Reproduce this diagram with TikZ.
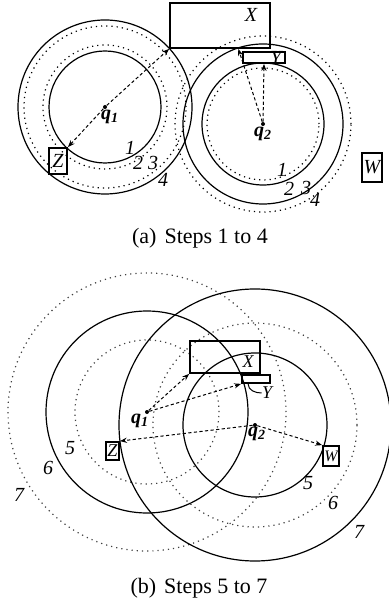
\documentclass[tikz,border=0pt]{standalone}
\usepackage{fontspec}
\setmainfont{Liberation Serif}
\usetikzlibrary{arrows.meta,calc}

\begin{document}
\begin{tikzpicture}[x=0.5pt,y=0.5pt,
    ring/.style={line width=0.6pt},
    dotring/.style={line width=0.6pt, dotted},
    box/.style={draw, line width=0.9pt, inner sep=0pt},
    qpt/.style={circle, fill, inner sep=0pt, minimum size=2pt},
    reach/.style={dash pattern=on 1.6pt off 1.2pt, line width=0.5pt, -{Stealth[length=3.5pt,width=2.6pt]}},
    num/.style={font=\itshape, inner sep=0pt},
    qlbl/.style={font=\bfseries\itshape, inner sep=0pt},
    capt/.style={font=\fontsize{11}{13}\selectfont}]
    \useasboundingbox (0,0) rectangle (388,-603);

    % (a) Steps 1 to 4
    \node[qpt] (q1a) at (105,-107) {};
    \node[qpt] (q2a) at (263,-124) {};
    \draw[ring] (q1a.center) circle (56) (q1a.center) circle (87);
    \draw[dotring] (q1a.center) circle (62) (q1a.center) circle (81);
    \draw[ring] (q2a.center) circle (61) (q2a.center) circle (80);
    \draw[dotring] (q2a.center) circle (56) (q2a.center) circle (88);
    \node[box, minimum width=50pt, minimum height=22.5pt] (Xa) at (220,-25.5) {};
    \node[box, minimum width=21pt, minimum height=5.5pt] (Ya) at (264,-57.5) {};
    \node[box, minimum width=9pt, minimum height=13pt] (Za) at (58,-161) {};
    \node[box, minimum width=10pt, minimum height=14.5pt] (Wa) at (372,-167.5) {};
    \node[num] at (251,-15) {X};
    \node[num] at (276,-58) {Y};
    \node[num] at (Za) {Z};
    \node[num] at (Wa) {W};
    \node[qlbl] at (110,-117) {q\textsubscript{1}};
    \node[qlbl] at (263,-134) {q\textsubscript{2}};
    \draw[reach] (q1a) -- (Xa.south west);
    \draw[reach] (q1a) -- (Za.north east);
    \draw[reach] (q2a) -- ($(Xa.south west)!0.68!(Xa.south east)$);
    \draw[reach] (q2a) -- (Ya.south);
    \foreach \t/\x/\y in {1/130/148, 2/138/163, 3/153/163, 4/163/180,
                          1/282/170, 2/289/189, 3/306/188, 4/315/200}
        \node[num] at (\x,-\y) {\t};
    \node[capt] at (200,-238) {(a)\hspace{4pt}Steps 1 to 4};

    % (b) Steps 5 to 7
    \node[qpt] (q1b) at (147,-412) {};
    \node[qpt] (q2b) at (255,-425) {};
    \draw[ring] (q1b.center) circle (101);
    \draw[dotring, black!75] (q1b.center) circle (72) (q1b.center) circle (139);
    \draw[ring] (q2b.center) circle (72) (q2b.center) circle (136);
    \draw[dotring, black!75] (q2b.center) circle (102);
    \node[box, minimum width=35pt, minimum height=16pt] (Xb) at (225,-357) {};
    \node[box, minimum width=14pt, minimum height=4pt] (Yb) at (256,-379) {};
    \node[box, minimum width=6.5pt, minimum height=9pt] (Zb) at (112.5,-451) {};
    \node[box, minimum width=8pt, minimum height=10pt] (Wb) at (331,-456) {};
    \node[num, font=\small\itshape] at (248,-362) {X};
    \node[num, font=\small\itshape] (ylbl) at (267,-393) {Y};
    \node[num, font=\small\itshape] at (Zb) {Z};
    \node[num, font=\footnotesize\itshape] at (Wb) {W};
    \node[qlbl] at (140,-421) {q\textsubscript{1}};
    \node[qlbl] at (257,-434) {q\textsubscript{2}};
    \draw[reach] (q1b) -- (Xb.south west);
    \draw[reach] (q1b) -- (Yb.south west);
    \draw[reach] (q2b) -- (Zb.north east);
    \draw[reach] (q2b) -- (Wb.north west);
    \draw[line width=0.5pt] ($(Yb.south west)+(7,0)$) to[out=-90,in=180] (ylbl.west);
    \foreach \t/\x/\y in {5/70/448, 6/48/468, 7/19/495,
                          5/308/483, 6/333/503, 7/359/532}
        \node[num] at (\x,-\y) {\t};
    \node[capt] at (199,-588) {(b)\hspace{4pt}Steps 5 to 7};
\end{tikzpicture}
\end{document}
